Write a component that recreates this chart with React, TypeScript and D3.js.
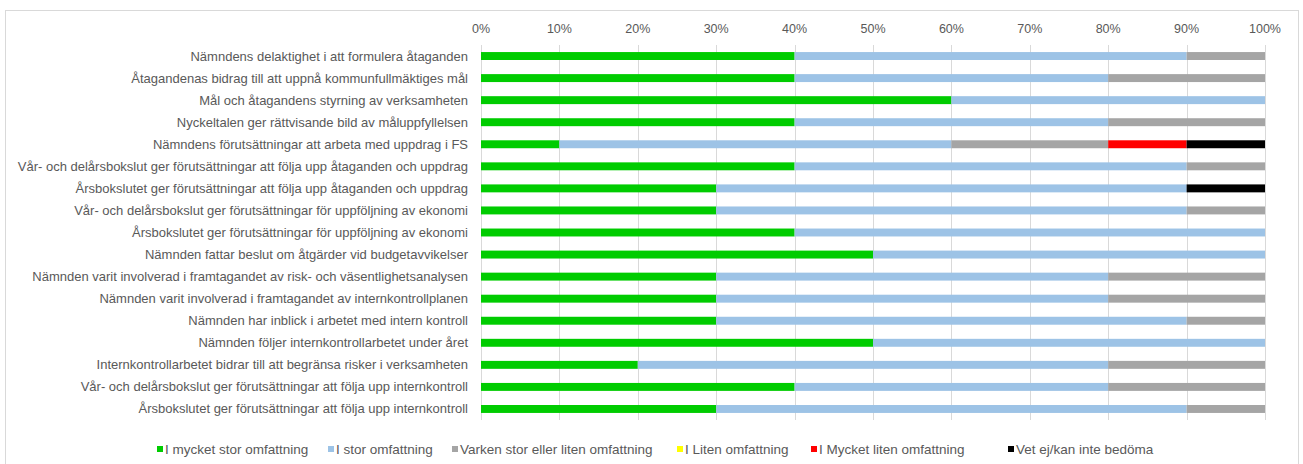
import React from "react";
import * as d3 from "d3";

const categories = [
  "Nämndens delaktighet i att formulera åtaganden",
  "Åtagandenas bidrag till att uppnå kommunfullmäktiges mål",
  "Mål och åtagandens styrning av verksamheten",
  "Nyckeltalen ger rättvisande bild av måluppfyllelsen",
  "Nämndens förutsättningar att arbeta med uppdrag i FS",
  "Vår- och delårsbokslut ger förutsättningar att följa upp åtaganden och uppdrag",
  "Årsbokslutet ger förutsättningar att följa upp åtaganden och uppdrag",
  "Vår- och delårsbokslut ger förutsättningar för uppföljning av ekonomi",
  "Årsbokslutet ger förutsättningar för uppföljning av ekonomi",
  "Nämnden fattar beslut om åtgärder vid budgetavvikelser",
  "Nämnden varit involverad i framtagandet av risk- och väsentlighetsanalysen",
  "Nämnden varit involverad i framtagandet av internkontrollplanen",
  "Nämnden har inblick i arbetet med intern kontroll",
  "Nämnden följer internkontrollarbetet under året",
  "Internkontrollarbetet bidrar till att begränsa risker i verksamheten",
  "Vår- och delårsbokslut ger förutsättningar att följa upp internkontroll",
  "Årsbokslutet ger förutsättningar att följa upp internkontroll",
];

const seriesNames = [
  "I mycket stor omfattning",
  "I stor omfattning",
  "Varken stor eller liten omfattning",
  "I Liten omfattning",
  "I Mycket liten omfattning",
  "Vet ej/kan inte bedöma",
];

const seriesColors = ["#00CC00", "#9DC3E6", "#A5A5A5", "#FFFF00", "#FF0000", "#000000"];

const mycketStor = [40, 40, 60, 40, 10, 40, 30, 30, 40, 50, 30, 30, 30, 50, 20, 40, 30];
const stor = [50, 40, 40, 40, 50, 50, 60, 60, 60, 50, 50, 50, 60, 50, 60, 40, 60];
const varken = [10, 20, 0, 20, 20, 10, 0, 10, 0, 0, 20, 20, 10, 0, 20, 20, 10];
const liten = [0, 0, 0, 0, 0, 0, 0, 0, 0, 0, 0, 0, 0, 0, 0, 0, 0];
const mycketLiten = [0, 0, 0, 0, 10, 0, 0, 0, 0, 0, 0, 0, 0, 0, 0, 0, 0];
const vetEj = [0, 0, 0, 0, 10, 0, 10, 0, 0, 0, 0, 0, 0, 0, 0, 0, 0];

const tickValues = [0, 10, 20, 30, 40, 50, 60, 70, 80, 90, 100];

const legendX = [160, 331, 455, 680, 814, 1011];

export default function App() {
  const W = 1303;
  const H = 464;
  const left = 481;
  const right = 1265;
  const top = 45;
  const bottom = 420;
  const textColor = "#595959";
  const font = "'Liberation Sans', Arial, sans-serif";

  const x = d3.scaleLinear().domain([0, 100]).range([left, right]);
  const y = d3.scaleBand<string>().domain(categories).range([top, bottom]).paddingInner(0.64).paddingOuter(0.32);

  const table = categories.map((c, i) => ({
    cat: c,
    s0: mycketStor[i],
    s1: stor[i],
    s2: varken[i],
    s3: liten[i],
    s4: mycketLiten[i],
    s5: vetEj[i],
  }));
  const keys = ["s0", "s1", "s2", "s3", "s4", "s5"];
  const stacked = d3.stack<any>().keys(keys)(table);

  return (
    <svg width={W} height={H} style={{ position: "absolute", left: 0, top: 0, background: "#fff" }} fontFamily={font}>
      <rect x={5.5} y={10.5} width={1293} height={470} fill="#fff" stroke="#D9D9D9" strokeWidth={1} />
      {tickValues.map((t) => (
        <g key={t}>
          <line x1={Math.round(x(t)) + 0.5} x2={Math.round(x(t)) + 0.5} y1={top} y2={bottom} stroke="#D9D9D9" strokeWidth={1} />
          <text x={x(t)} y={33} textAnchor="middle" fontSize={12.5} fill={textColor}>
            {t + "%"}
          </text>
        </g>
      ))}
      {stacked.map((layer, li) => (
        <g key={li} fill={seriesColors[li]}>
          {layer.map((d, i) =>
            d[1] - d[0] > 0 ? (
              <rect
                key={i}
                x={x(d[0])}
                width={x(d[1]) - x(d[0])}
                y={y(categories[i])!}
                height={y.bandwidth()}
              />
            ) : null
          )}
        </g>
      ))}
      {categories.map((c) => (
        <text
          key={c}
          x={468}
          y={y(c)! + y.bandwidth() / 2 + 4.5}
          textAnchor="end"
          fontSize={13}
          fill={textColor}
        >
          {c}
        </text>
      ))}
      {seriesNames.map((n, i) => (
        <g key={n}>
          <rect x={legendX[i] - 3} y={446} width={6} height={6} fill={seriesColors[i]} />
          <text x={legendX[i] + 5} y={453.5} fontSize={13.5} fill={textColor}>
            {n}
          </text>
        </g>
      ))}
    </svg>
  );
}
